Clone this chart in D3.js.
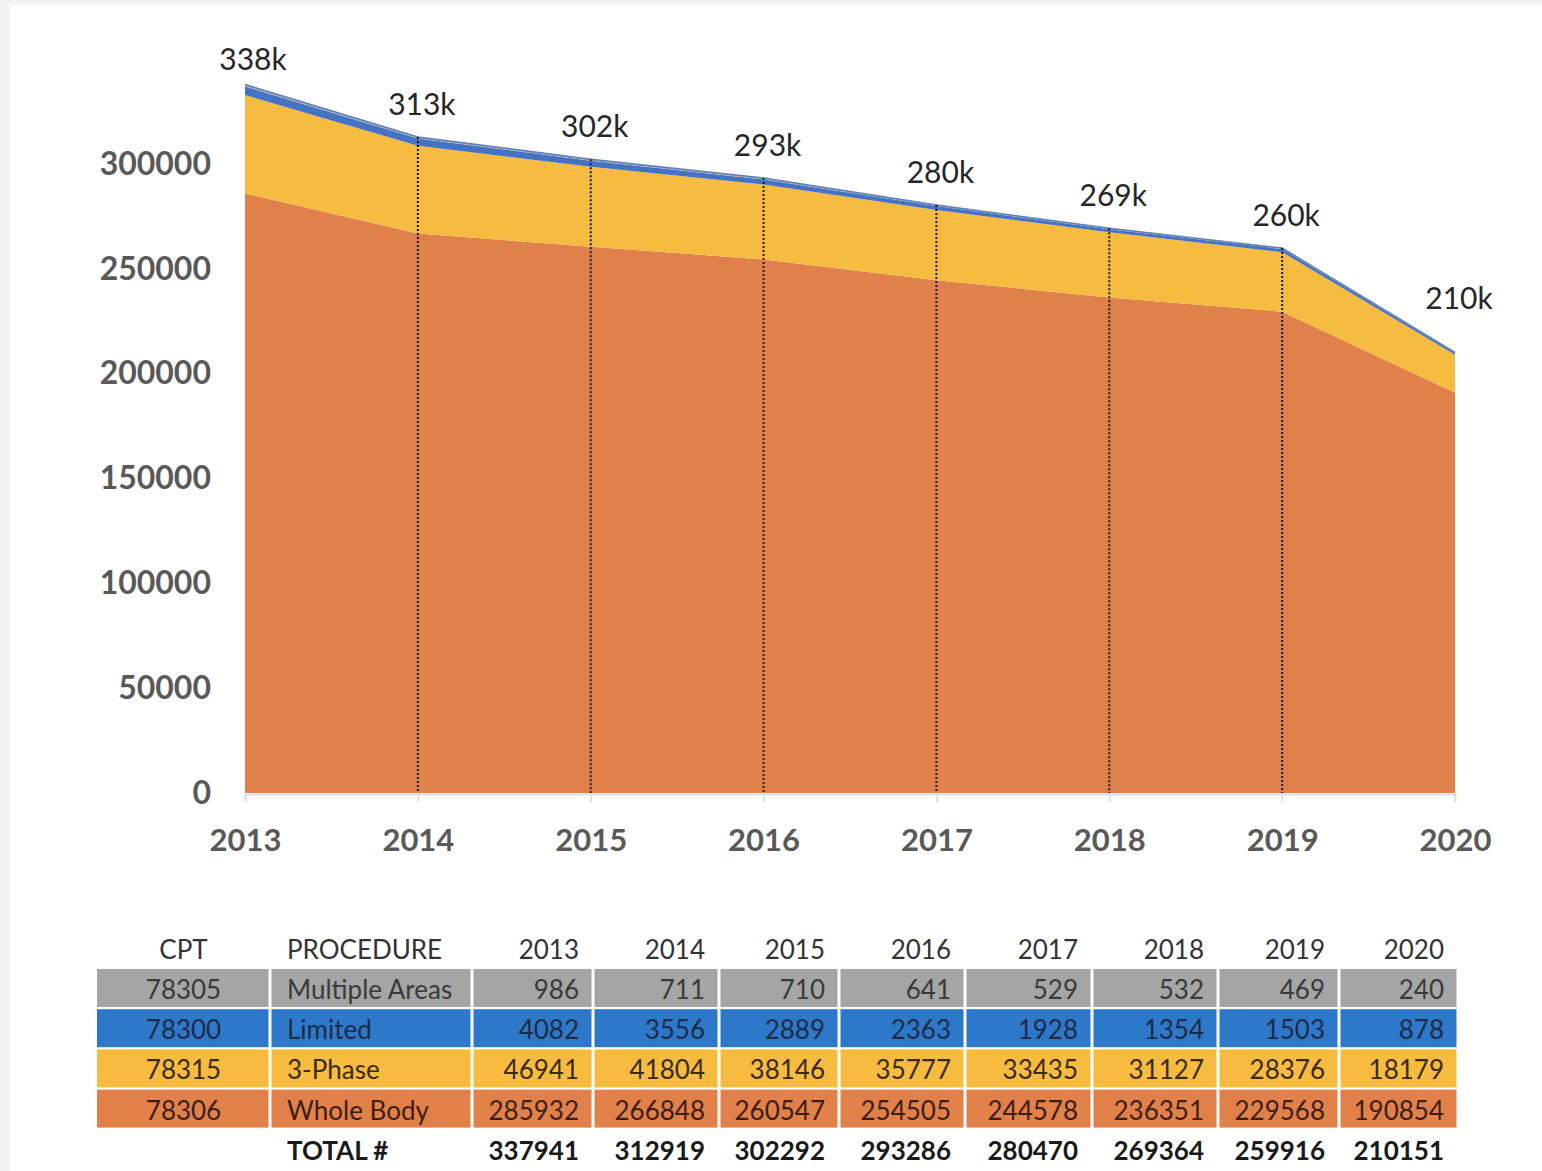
<!DOCTYPE html>
<html>
<head>
<meta charset="utf-8">
<script src="https://cdn.jsdelivr.net/npm/d3@7"></script>
<style>
  body { margin: 0; background: #f2f2f2; }
  svg { display: block; font-family: Lato, "Open Sans", sans-serif; }
</style>
</head>
<body>
<script>
// data
const years = [2013, 2014, 2015, 2016, 2017, 2018, 2019, 2020]
const cptCodes = ['78305', '78300', '78315', '78306']
const procedures = ['Multiple Areas', 'Limited', '3-Phase', 'Whole Body']
const multipleAreas = [986, 711, 710, 641, 529, 532, 469, 240]
const limited = [4082, 3556, 2889, 2363, 1928, 1354, 1503, 878]
const threePhase = [46941, 41804, 38146, 35777, 33435, 31127, 28376, 18179]
const wholeBody = [285932, 266848, 260547, 254505, 244578, 236351, 229568, 190854]
const totals = [337941, 312919, 302292, 293286, 280470, 269364, 259916, 210151]
const yTicks = [0, 50000, 100000, 150000, 200000, 250000, 300000]

const measurements = { width: 1542, height: 1171 }
const colors = {
    wholeBody: '#e0804a',
    threePhase: '#f6bb41',
    limited: '#4472c4',
    multipleAreas: '#a5a5a5'
}
const rowColors = ['#a5a5a5', '#2e78c9', '#f7bc3f', '#e2804a']
const rowText = ['#3a3a3a', '#1b2b48', '#3a2a10', '#3a1e10']

const svg = d3.select('body').append('svg')
    .attr('width', measurements.width)
    .attr('height', measurements.height)

// white panel on grey page
svg.append('rect')
    .attr('x', 10).attr('y', 5)
    .attr('width', measurements.width - 10)
    .attr('height', measurements.height - 5)
    .attr('fill', '#ffffff')

// scales
const x = d3.scaleLinear().domain([2013, 2020]).range([245, 1455])
const y = d3.scaleLinear().domain([0, 300000]).range([793, 164])

// stacked data, bottom to top
const rows = years.map((yr, i) => ({
    year: yr,
    wholeBody: wholeBody[i],
    threePhase: threePhase[i],
    limited: limited[i],
    multipleAreas: multipleAreas[i]
}))
const keys = ['wholeBody', 'threePhase', 'limited', 'multipleAreas']
const series = d3.stack().keys(keys)(rows)

const area = d3.area()
    .x(d => x(d.data.year))
    .y0(d => y(d[0]))
    .y1(d => y(d[1]))

const chart = svg.append('g')

chart.selectAll('.layer')
    .data(series)
    .enter()
    .append('path')
    .attr('class', 'layer')
    .attr('d', area)
    .attr('fill', d => colors[d.key])

// thin outline on top of the stack
chart.append('path')
    .datum(rows)
    .attr('fill', 'none')
    .attr('stroke', '#5b7fb8')
    .attr('stroke-width', 1.5)
    .attr('d', d3.line().x(d => x(d.year)).y((d, i) => y(totals[i])))

// dotted drop lines at the inner years
chart.selectAll('.drop')
    .data(years.slice(1, -1))
    .enter()
    .append('line')
    .attr('x1', d => x(d)).attr('x2', d => x(d))
    .attr('y1', d => y(totals[years.indexOf(d)]))
    .attr('y2', y(0))
    .attr('stroke', '#1a1a1a')
    .attr('stroke-width', 2)
    .attr('stroke-dasharray', '2,2')

// x axis
const xAxis = svg.append('g')
    .attr('transform', `translate(0,${y(0) + 1})`)
    .call(d3.axisBottom(x).tickValues(years).tickFormat(d3.format('d')).tickSize(8).tickPadding(27))
xAxis.select('.domain').attr('stroke', '#d9d9d9').attr('stroke-width', 1.5)
xAxis.selectAll('.tick line').attr('stroke', '#d9d9d9').attr('stroke-width', 1.5)
xAxis.selectAll('.tick text')
    .attr('fill', '#595959')
    .style('font-size', '31px')
    .style('font-weight', 'bold')
    .style('font-family', 'Lato, sans-serif')

// y axis labels only
const yAxis = svg.append('g')
    .attr('transform', 'translate(245,0)')
    .call(d3.axisLeft(y).tickValues(yTicks).tickFormat(d3.format('d')).tickSize(0).tickPadding(34))
yAxis.select('.domain').remove()
yAxis.selectAll('.tick text')
    .attr('fill', '#595959')
    .style('font-size', '32px')
    .style('font-weight', 'bold')
    .style('font-family', 'Lato, sans-serif')

// total labels
svg.selectAll('.total')
    .data(totals)
    .enter()
    .append('text')
    .attr('x', (d, i) => x(years[i]) + (i === 0 ? 8 : 4))
    .attr('y', (d, i) => y(d) - (i === totals.length - 1 ? 55 : i === 0 ? 26 : 34))
    .attr('text-anchor', 'middle')
    .attr('dominant-baseline', 'central')
    .attr('fill', '#262626')
    .style('font-size', '30px')
    .text(d => Math.round(d / 1000) + 'k')

// table under the chart
const colEdges = [97, 270, 472, 593, 719, 839, 965, 1092, 1218, 1339, 1458]
const rowTop = 969, rowH = 38, rowStep = 40.2
const table = svg.append('g').style('font-size', '26px')

const cellX = c => c === 0 ? (colEdges[0] + colEdges[1]) / 2 : c === 1 ? colEdges[1] + 17 : colEdges[c + 1] - 14
const cellAnchor = c => c === 0 ? 'middle' : c === 1 ? 'start' : 'end'

// header
const headers = ['CPT', 'PROCEDURE'].concat(years.map(String))
headers.forEach((h, c) => {
    table.append('text')
        .attr('x', cellX(c))
        .attr('y', 949)
        .attr('dominant-baseline', 'central')
        .attr('text-anchor', cellAnchor(c))
        .attr('fill', '#333')
        .text(h)
})

const tableValues = [multipleAreas, limited, threePhase, wholeBody]
tableValues.forEach((vals, r) => {
    const top = rowTop + r * rowStep
    const cells = [cptCodes[r], procedures[r]].concat(vals.map(String))
    cells.forEach((v, c) => {
        table.append('rect')
            .attr('x', colEdges[c] + (c === 0 ? 0 : 1.5))
            .attr('y', top)
            .attr('width', colEdges[c + 1] - colEdges[c] - (c === 0 ? 1.5 : 3))
            .attr('height', rowH)
            .attr('fill', rowColors[r])
        table.append('text')
            .attr('x', cellX(c))
            .attr('y', top + rowH / 2 + 1)
            .attr('dominant-baseline', 'central')
            .attr('text-anchor', cellAnchor(c))
            .attr('fill', rowText[r])
            .text(v)
    })
})

// totals row
const totalCells = ['', 'TOTAL #'].concat(totals.map(String))
totalCells.forEach((v, c) => {
    table.append('text')
        .attr('x', c === 1 ? colEdges[1] + 17 : colEdges[c + 1] - 14)
        .attr('y', 1150)
        .attr('dominant-baseline', 'central')
        .attr('text-anchor', c === 1 ? 'start' : 'end')
        .attr('fill', '#1a1a1a')
        .style('font-weight', 'bold')
        .text(v)
})
</script>
</body>
</html>
